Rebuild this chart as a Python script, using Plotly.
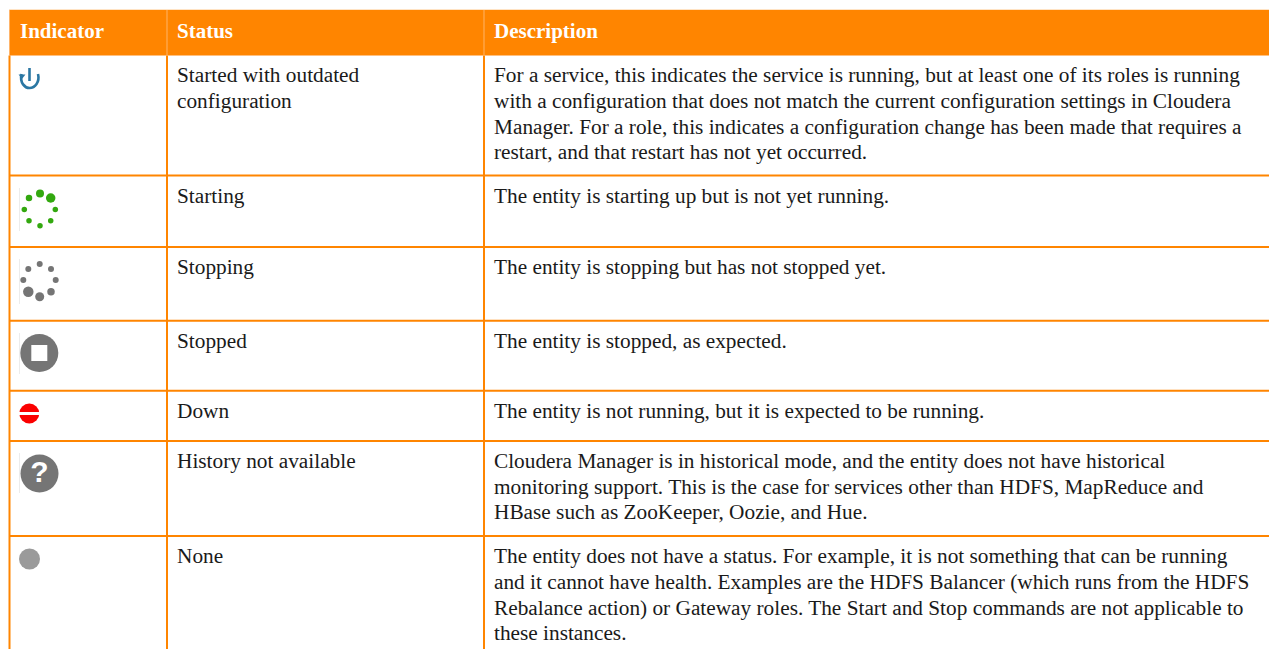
import plotly.graph_objects as go

W, H = 1269, 649
ORANGE = "#ff8500"
SERIF = "Liberation Serif"

headers = ["Indicator", "Status", "Description"]
header_x = [20, 177, 494]
column_lines = [9.5, 167, 484]
row_lines = [55.5, 175.5, 247, 320.7, 390.7, 441, 536]
header_top = 10

status_lines = [
    ("Started with outdated", 77), ("configuration", 103),
    ("Starting", 198), ("Stopping", 269), ("Stopped", 343),
    ("Down", 413), ("History not available", 463), ("None", 558),
]
desc_lines = [
    ("For a service, this indicates the service is running, but at least one of its roles is running", 77),
    ("with a configuration that does not match the current configuration settings in Cloudera", 103),
    ("Manager. For a role, this indicates a configuration change has been made that requires a", 129),
    ("restart, and that restart has not yet occurred.", 154),
    ("The entity is starting up but is not yet running.", 198),
    ("The entity is stopping but has not stopped yet.", 269),
    ("The entity is stopped, as expected.", 343),
    ("The entity is not running, but it is expected to be running.", 413),
    ("Cloudera Manager is in historical mode, and the entity does not have historical", 463),
    ("monitoring support. This is the case for services other than HDFS, MapReduce and", 489),
    ("HBase such as ZooKeeper, Oozie, and Hue.", 514),
    ("The entity does not have a status. For example, it is not something that can be running", 558),
    ("and it cannot have health. Examples are the HDFS Balancer (which runs from the HDFS", 584),
    ("Rebalance action) or Gateway roles. The Start and Stop commands are not applicable to", 610),
    ("these instances.", 635),
]

starting_x = [29, 40, 50.7, 55.3, 50.7, 40, 29, 24.3]
starting_y = [198, 193.5, 198, 209.5, 220.7, 225.7, 220.7, 209.5]
starting_s = [6.5, 8, 9.5, 5.5, 5.5, 5.5, 5.5, 5.5]
stopping_x = [28.3, 39.7, 51, 55.7, 51, 39.7, 28.3, 23.3]
stopping_y = [269, 264, 269, 280, 291.7, 296.7, 291.7, 280]
stopping_s = [6, 6, 6, 6, 7.5, 9, 10.5, 6]
icon_rule_x = 19.5
icon_rules = [(188, 231), (259, 304), (333, 374), (453, 493)]

fig = go.Figure()

# header band
fig.add_shape(type="rect", x0=column_lines[0], x1=W, y0=header_top, y1=row_lines[0],
              fillcolor="#ff8500", line_width=0, layer="below")
# grid
fig.add_shape(type="line", x0=9, x1=W, y0=9.5, y1=9.5, line=dict(color="#ffe3c4", width=1))
fig.add_shape(type="line", x0=9, x1=W, y0=row_lines[0], y1=row_lines[0], line=dict(color="#ffc080", width=1))
for y in row_lines[1:]:
    fig.add_shape(type="line", x0=9, x1=W, y0=y, y1=y, line=dict(color=ORANGE, width=2))
for x in column_lines:
    fig.add_shape(type="line", x0=x, x1=x, y0=row_lines[0], y1=H, line=dict(color=ORANGE, width=2))
    fig.add_shape(type="line", x0=x, x1=x, y0=header_top, y1=row_lines[0], line=dict(color="#ffb469", width=1))

for y0, y1 in icon_rules:
    fig.add_shape(type="line", x0=icon_rule_x, x1=icon_rule_x, y0=y0, y1=y1, line=dict(color="#ececec", width=1))

# text
fig.add_trace(go.Scatter(x=header_x, y=[33] * 3, text=headers, mode="text", textposition="middle right",
                         textfont=dict(family=SERIF, size=21, color="white", weight="bold")))
fig.add_trace(go.Scatter(x=[header_x[1]] * len(status_lines), y=[s[1] for s in status_lines],
                         text=[s[0] for s in status_lines], mode="text", textposition="middle right",
                         textfont=dict(family=SERIF, size=21.3, color="#1a1a1a")))
fig.add_trace(go.Scatter(x=[header_x[2]] * len(desc_lines), y=[s[1] for s in desc_lines],
                         text=[s[0] for s in desc_lines], mode="text", textposition="middle right",
                         textfont=dict(family=SERIF, size=21.3, color="#1a1a1a")))

# spinners
fig.add_trace(go.Scatter(x=starting_x, y=starting_y, mode="markers",
                         marker=dict(size=starting_s, color="#33a80f", opacity=1, line_width=0)))
fig.add_trace(go.Scatter(x=stopping_x, y=stopping_y, mode="markers",
                         marker=dict(size=stopping_s, color="#757575", opacity=1, line_width=0)))

# power icon
fig.add_shape(type="path", path="M 21.5 74 C 19.5 83, 25 88, 29.5 88 C 35 88, 40 82, 38 74",
              line=dict(color="#2b77a3", width=2.6))
fig.add_shape(type="line", x0=29.5, x1=29.5, y0=68, y1=81, line=dict(color="#2b77a3", width=2.6))
fig.add_trace(go.Scatter(x=[22], y=[76], mode="markers",
                         marker=dict(symbol="triangle-down", size=6, color="#2b77a3", line_width=0)))

# stopped
fig.add_trace(go.Scatter(x=[39.3], y=[353], mode="markers", marker=dict(size=38, color="#757575", line_width=0)))
fig.add_trace(go.Scatter(x=[39.3], y=[353], mode="markers", marker=dict(symbol="square", size=16, color="white", line_width=0)))

# down
fig.add_trace(go.Scatter(x=[29.3], y=[413.5], mode="markers", marker=dict(size=20, color="#fb0000", line_width=0)))
fig.add_shape(type="rect", x0=19, x1=40, y0=412, y1=415, fillcolor="white", line_width=0, layer="above")

# history
fig.add_trace(go.Scatter(x=[39.5], y=[473.5], mode="markers", marker=dict(size=38, color="#757575", line_width=0)))
fig.add_trace(go.Scatter(x=[39.5], y=[474], text=["?"], mode="text",
                         textfont=dict(family="Liberation Sans", size=30, color="white", weight="bold")))

# none
fig.add_trace(go.Scatter(x=[29.5], y=[559], mode="markers", marker=dict(size=21, color="#9a9a9a", line_width=0)))

fig.update_layout(width=W, height=H, margin=dict(l=0, r=0, t=0, b=0), showlegend=False,
                  paper_bgcolor="white", plot_bgcolor="white",
                  xaxis=dict(range=[0, W], visible=False, fixedrange=True),
                  yaxis=dict(range=[H, 0], visible=False, fixedrange=True))
fig.write_html("out.html", config=dict(displayModeBar=False),
               post_script="document.body.style.margin='0';document.body.style.overflow='hidden';")
